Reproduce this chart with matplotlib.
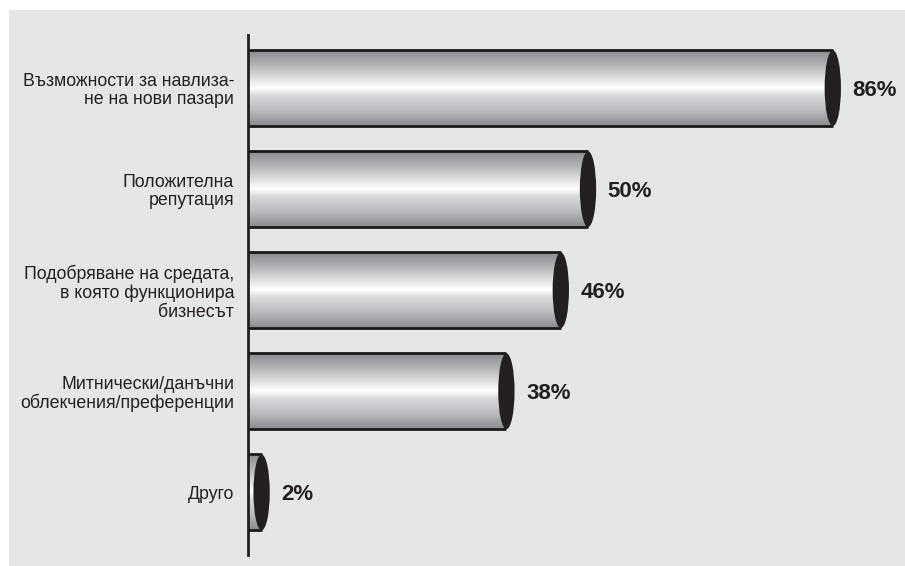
import numpy as np
import matplotlib.pyplot as plt
from matplotlib.patches import Rectangle, Ellipse
from matplotlib.colors import LinearSegmentedColormap
from matplotlib import font_manager

# Data
categories = [
    'Възможности за навлиза-\nне на нови пазари',
    'Положителна\nрепутация',
    'Подобряване на средата,\nв която функционира\nбизнесът',
    'Митнически/данъчни\nоблекчения/преференции',
    'Друго',
]
values = [86, 50, 46, 38, 2]
value_labels = ['86%', '50%', '46%', '38%', '2%']

names = {f.name for f in font_manager.fontManager.ttflist}
family = 'Liberation Sans Narrow' if 'Liberation Sans Narrow' in names else 'Liberation Sans'
plt.rcParams['font.family'] = [family, 'DejaVu Sans']

W, H = 905, 566
fig = plt.figure(figsize=(W / 100, H / 100), dpi=100, facecolor='white')
# gray panel
fig.patches.append(Rectangle((9 / W, 0), 1 - 9 / W, 1 - 10 / H, transform=fig.transFigure,
                             facecolor='#e5e6e8', edgecolor='none', zorder=-5))

ax = fig.add_axes([248 / W, 11 / H, (W - 248) / W, 520 / H])
ax.set_facecolor('none')

cmap = LinearSegmentedColormap.from_list('cyl', [
    (0.0, '#8a8b8f'), (0.2, '#b4b5b8'), (0.45, '#f4f4f5'), (0.5, '#ffffff'),
    (0.6, '#d8d9db'), (0.8, '#b9babd'), (1.0, '#8a8b8f')])
grad = np.linspace(0, 1, 256).reshape(-1, 1)

h = 0.75
ell_w = 2.4
for i, v in enumerate(values):
    ax.imshow(grad, cmap=cmap, aspect='auto', interpolation='bilinear',
              extent=[0, v, i + h / 2, i - h / 2], zorder=2)
    ax.plot([0, v], [i - h / 2, i - h / 2], color='#1a1a1a', lw=2, zorder=3,
            solid_capstyle='butt')
    ax.plot([0, v], [i + h / 2, i + h / 2], color='#1a1a1a', lw=2, zorder=3,
            solid_capstyle='butt')
    ax.add_patch(Ellipse((v, i), ell_w, h, facecolor='#231f20', edgecolor='none', zorder=4))
    ax.text(v + ell_w / 2 + 1.7, i + 0.02, value_labels[i], fontsize=16, fontweight='bold',
            color='#231f20', ha='left', va='center', zorder=5)

ax.set_xlim(0, (W - 248) / 6.8)
ax.set_ylim(4.62, -0.525)

ax.set_yticks(range(len(categories)))
ax.set_yticklabels(categories, fontsize=12.8, color='#231f20', linespacing=1.1)
ax.tick_params(axis='y', length=0, pad=10)
ax.set_xticks([])
for s in ['top', 'right', 'bottom']:
    ax.spines[s].set_visible(False)
ax.spines['left'].set_linewidth(2)
ax.spines['left'].set_color('#231f20')

fig.savefig('out.png', dpi=100, facecolor='white')
